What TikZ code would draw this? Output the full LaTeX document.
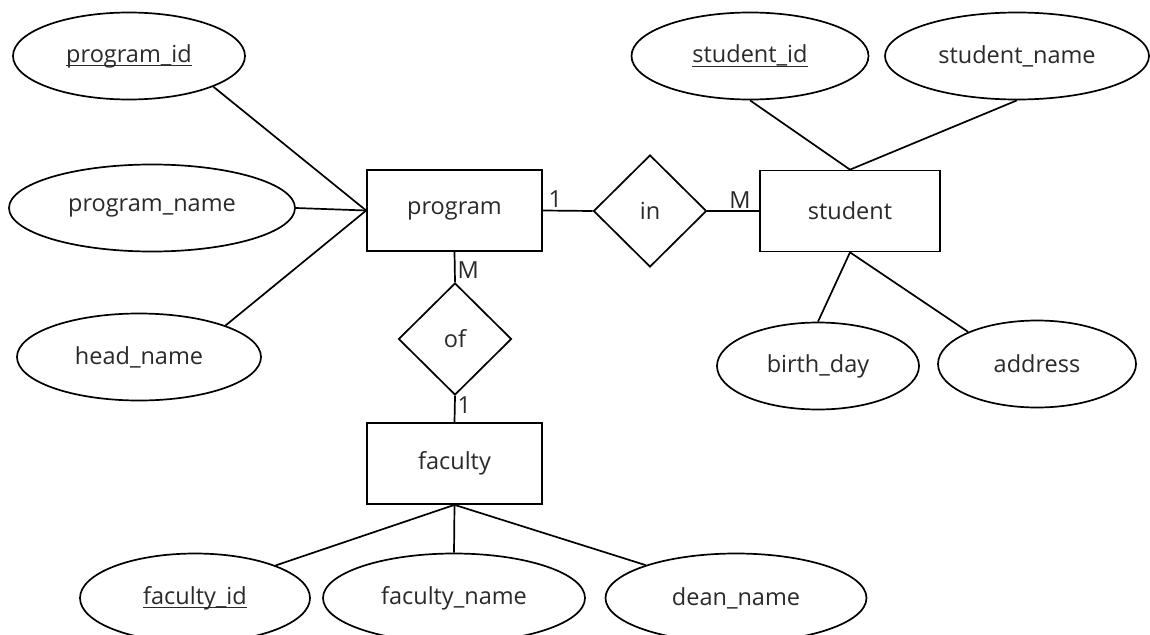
\documentclass[tikz,border=0pt]{standalone}
\usepackage{fontspec}
\setmainfont{Open Sans}
\usepackage{xcolor}
\usepackage{tikz}
\usetikzlibrary{shapes.geometric}
\definecolor{ink}{HTML}{000000}
\definecolor{txt}{HTML}{2A2A2A}
\newcommand{\keyattr}[1]{\setbox0\hbox{#1}\rlap{\rule[-0.17em]{\wd0}{0.06em}}\box0}
\tikzset{
  base/.style={draw=ink, line width=1.7pt},
  lab/.style={text=txt, font=\fontsize{23.5}{27}\selectfont},
  entity/.style={base, lab, rectangle, minimum width=175pt, minimum height=81pt},
  rel/.style={base, lab, diamond, aspect=1, inner sep=0pt, minimum width=113pt, minimum height=112pt},
  attr/.style={base, lab, ellipse, inner sep=0pt, minimum height=87pt},
  conn/.style={draw=ink, line width=1.7pt},
  card/.style={lab, inner sep=2pt},
}

\begin{document}
\begin{tikzpicture}[x=1pt, y=-1pt]
  \clip (0,0) rectangle (1150,634);
  \fill[white] (0,0) rectangle (1150,634);
  % program side
  \node[attr, minimum width=232pt] (pid) at (129,56) {\keyattr{program\_id}};
  \node[attr, minimum width=286pt] (pname) at (152,208) {program\_name};
  \node[attr, minimum width=244pt] (hname) at (139,357) {head\_name};
  \node[entity] (prog) at (454.5,210.5) {program};
  \node[rel] (in) at (650,211) {in};
  % student side
  \node[entity, minimum width=180pt] (stud) at (850,211) {student};
  \node[attr, minimum width=237pt] (sid) at (750,56) {\keyattr{student\_id}};
  \node[attr, minimum width=264pt] (sname) at (1017,56) {student\_name};
  \node[attr, minimum width=202pt] (bday) at (818,366) {birth\_day};
  \node[attr, minimum width=198pt] (addr) at (1037,364) {address};
  % faculty side
  \node[rel] (of) at (455,339) {of};
  \node[entity] (fac) at (454.5,463.5) {faculty};
  \node[attr, minimum width=230pt, minimum height=89pt] (fid) at (195,598) {\keyattr{faculty\_id}};
  \node[attr, minimum width=262pt, minimum height=89pt] (fname) at (454,598) {faculty\_name};
  \node[attr, minimum width=261pt, minimum height=89pt] (dname) at (736,598) {dean\_name};

  \draw[conn] (pid.-20) -- (prog.west);
  \draw[conn] (pname.east) -- (prog.west);
  \draw[conn] (hname.20) -- (prog.west);
  \draw[conn] (prog.east) -- node[card, above, pos=0.25] {1} (in.west);
  \draw[conn] (in.east) -- node[card, above, pos=0.63] {M} (stud.west);
  \draw[conn] (sid.south) -- (stud.north);
  \draw[conn] (sname.south) -- (stud.north);
  \draw[conn] (bday.north) -- (stud.south);
  \draw[conn] (addr.155) -- (stud.south);
  \draw[conn] (prog.south) -- node[card, right, pos=0.6] {M} (of.north);
  \draw[conn] (of.south) -- node[card, right, pos=0.36] {1} (fac.north);
  \draw[conn] (fac.south) -- (fid.22);
  \draw[conn] (fac.south) -- (fname.north);
  \draw[conn] (fac.south) -- (dname.160);
\end{tikzpicture}
\end{document}
